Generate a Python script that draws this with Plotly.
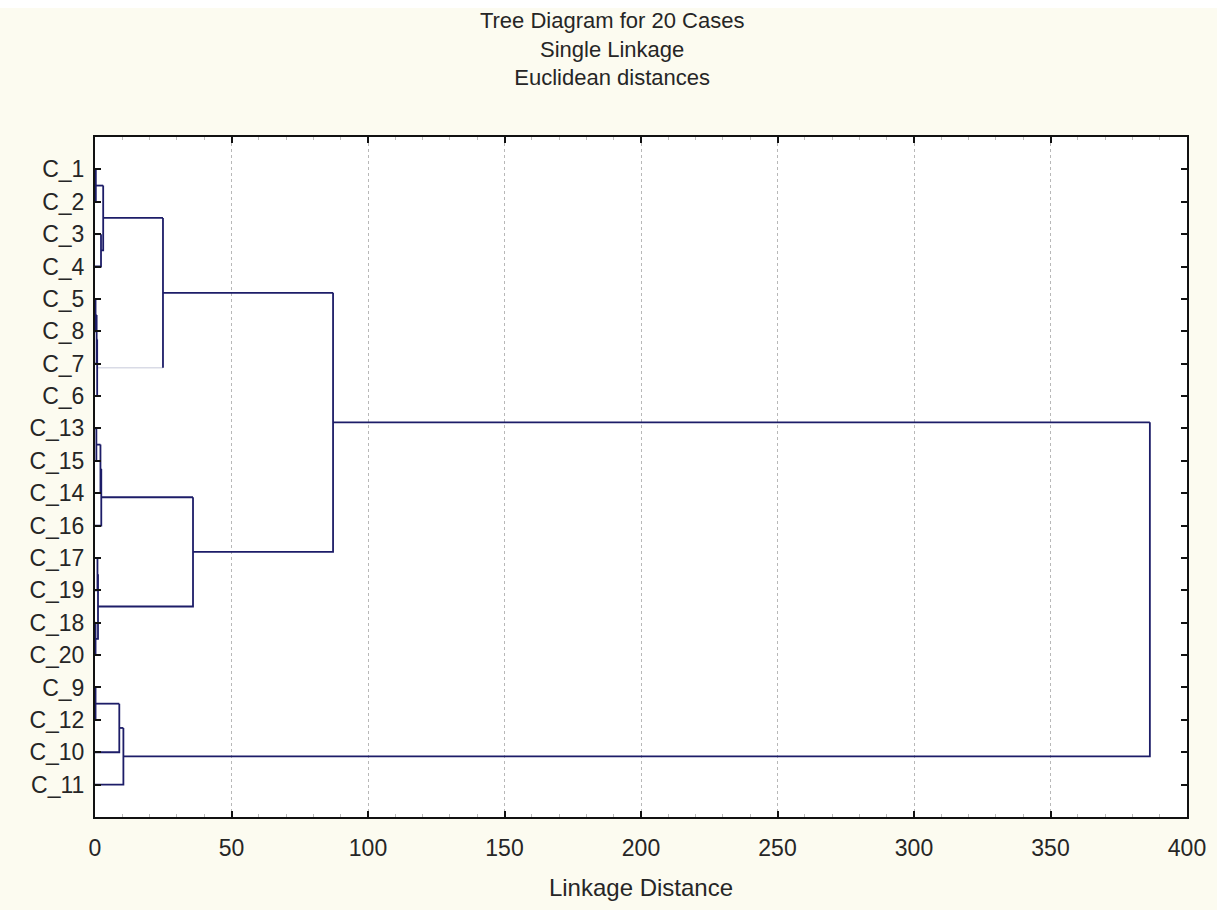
import plotly.graph_objects as go

# Leaf order from top to bottom of the tree
leaf_labels = ["C_1", "C_2", "C_3", "C_4", "C_5", "C_8", "C_7", "C_6",
               "C_13", "C_15", "C_14", "C_16", "C_17", "C_19", "C_18", "C_20",
               "C_9", "C_12", "C_10", "C_11"]

# Single-linkage merge steps: the two joined members and the linkage distance.
# Members named "m<k>" refer to the cluster formed at step k (1-based).
merge_left = ["C_1", "C_3", "m1", "C_5", "m4", "m5", "m3",
              "C_13", "m8", "m9", "C_17", "C_18", "m11", "m10", "m7",
              "C_9", "m16", "m17", "m15"]
merge_right = ["C_2", "C_4", "m2", "C_8", "C_7", "C_6", "m6",
               "C_15", "C_14", "C_16", "C_19", "C_20", "m12", "m13", "m14",
               "C_12", "C_10", "C_11", "m18"]
merge_dist = [0.3, 2.2, 3.0, 0.2, 0.6, 0.8, 24.9,
              0.5, 2.0, 2.3, 0.9, 0.2, 1.1, 35.9, 87.2,
              0.2, 8.9, 10.4, 386.4]

x_ticks = [0, 50, 100, 150, 200, 250, 300, 350, 400]

LINE = "#1d1d68"
FAINT = "#d9dbe6"
FONT = "Liberation Sans, Arial, sans-serif"
TEXT = "#262626"

# position (y) and height (x) of every node
pos = {name: i + 1 for i, name in enumerate(leaf_labels)}
height = {name: 0.0 for name in leaf_labels}

seg_x, seg_y = [], []          # regular branches
faint_x, faint_y = [], []      # branch rendered in a pale tone
for k, (a, b, d) in enumerate(zip(merge_left, merge_right, merge_dist), start=1):
    ya, yb = pos[a], pos[b]
    # left leg
    if a == "m6":
        faint_x += [height[a], d, None]
        faint_y += [ya, ya, None]
    else:
        seg_x += [height[a], d, None]
        seg_y += [ya, ya, None]
    # vertical joint and right leg
    if b == "m6":
        faint_x += [height[b], d, None]
        faint_y += [yb, yb, None]
        seg_x += [d, d, None]
        seg_y += [ya, yb, None]
    else:
        seg_x += [d, d, height[b], None]
        seg_y += [ya, yb, yb, None]
    node = f"m{k}"
    pos[node] = (ya + yb) / 2
    height[node] = d

fig = go.Figure()
fig.add_trace(go.Scatter(x=faint_x, y=faint_y, mode="lines",
                         line=dict(color=FAINT, width=1.5),
                         hoverinfo="skip", showlegend=False))
fig.add_trace(go.Scatter(x=seg_x, y=seg_y, mode="lines",
                         line=dict(color=LINE, width=1.8),
                         hoverinfo="skip", showlegend=False))

fig.update_layout(
    width=1217, height=910,
    margin=dict(l=95, r=30, t=137, b=93),
    paper_bgcolor="#fcfbf0",
    plot_bgcolor="#ffffff",
    font=dict(family=FONT, color=TEXT),
    title=dict(
        text="Tree Diagram for 20 Cases<br>Single Linkage<br>Euclidean distances",
        font=dict(size=22, family=FONT, color=TEXT),
        x=0.503, xanchor="center", xref="container",
        y=0.969, yanchor="middle", yref="container",
    ),
    xaxis=dict(
        range=[0, 400],
        tickmode="array", tickvals=x_ticks, ticktext=[str(v) for v in x_ticks],
        ticks="inside", ticklen=6, tickwidth=2, tickcolor="#111111",
        showline=True, linewidth=2, linecolor="#111111", mirror="ticks",
        showgrid=True, gridcolor="#b8b8b8", gridwidth=1, griddash="dot",
        zeroline=False,
        tickfont=dict(size=23, family=FONT, color=TEXT),
        ticklabelstandoff=9,
        minor=dict(dtick=10, ticks="inside", ticklen=3, tickcolor="#bdbdbd",
                   tickwidth=1, showgrid=False),
        title=dict(text="Linkage Distance",
                   font=dict(size=24, family=FONT, color=TEXT),
                   standoff=20),
    ),
    yaxis=dict(
        range=[21, 0],
        tickmode="array", tickvals=list(range(1, len(leaf_labels) + 1)),
        ticktext=leaf_labels,
        ticks="inside", ticklen=6, tickwidth=2, tickcolor="#111111",
        showline=True, linewidth=2, linecolor="#111111", mirror="ticks",
        showgrid=False, zeroline=False,
        tickfont=dict(size=23, family=FONT, color=TEXT),
        ticklabelstandoff=4,
    ),
    shapes=[dict(type="rect", xref="paper", yref="paper",
                 x0=-95 / 1092, x1=1122 / 1092, y0=1 + 129 / 680, y1=1 + 140 / 680,
                 fillcolor="#ffffff", line=dict(width=0), layer="below")],
)

fig.write_html("out.html")
